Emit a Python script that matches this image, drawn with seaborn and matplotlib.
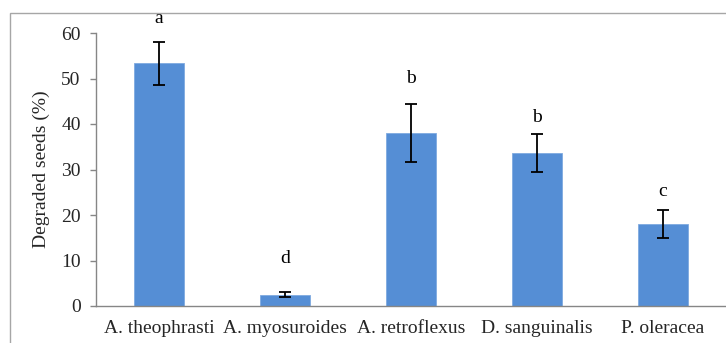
import matplotlib
matplotlib.use("Agg")
import matplotlib.pyplot as plt
import seaborn as sns
import pandas as pd
from matplotlib.patches import Rectangle

species = ["A. theophrasti", "A. myosuroides", "A. retroflexus", "D. sanguinalis", "P. oleracea"]
degraded = [53.3, 2.5, 38.1, 33.6, 18.0]
errors = [4.8, 0.5, 6.4, 4.1, 3.0]
letters = ["a", "d", "b", "b", "c"]
letter_y = [63.2, 10.4, 50.1, 41.4, 25.1]
yticks = [0, 10, 20, 30, 40, 50, 60]

sns.set_theme(style="white")
plt.rcParams["font.family"] = ["Liberation Serif", "DejaVu Serif"]

df = pd.DataFrame({"species": species, "degraded": degraded})

W, H = 726, 343
fig = plt.figure(figsize=(W / 100, H / 100), dpi=100)
ax = fig.add_axes([96 / W, (H - 306) / H, (726 - 96) / W, (306 - 33) / H])

sns.barplot(data=df, x="species", y="degraded", color="#558ED5", saturation=1,
            width=0.4, edgecolor="#7FAAE0", linewidth=0.6, ax=ax, errorbar=None)
ax.errorbar(range(len(species)), degraded, yerr=errors, fmt="none", ecolor="black",
            elinewidth=1.3, capsize=4.5, capthick=1.3)
for i, (lab, y) in enumerate(zip(letters, letter_y)):
    ax.text(i, y, lab, ha="center", va="center", fontsize=14, color="black")

ax.set_xlim(-0.5, len(species) - 0.5)
ax.set_ylim(0, 60)
ax.set_yticks(yticks)
ax.set_yticklabels([str(v) for v in yticks], fontsize=14)
ax.set_xticks(range(len(species)))
ax.set_xticklabels(species, fontsize=14)
ax.set_xticks([i + 0.5 for i in range(len(species) - 1)], minor=True)
ax.tick_params(axis="x", which="major", length=0, pad=10)
ax.tick_params(axis="x", which="minor", length=4, width=1, color="#868686", direction="out")
ax.tick_params(axis="y", which="major", length=4, width=1, color="#868686", direction="out",
               pad=7, left=True)
ax.set_xlabel("")
ax.set_ylabel("Degraded seeds (%)", fontsize=14, labelpad=8)

for s in ["top", "right"]:
    ax.spines[s].set_visible(False)
for s in ["left", "bottom"]:
    ax.spines[s].set_color("#868686")
    ax.spines[s].set_linewidth(1)

border = Rectangle((9.5 / W, -0.1), 1.2, (H - 13) / H + 0.1, transform=fig.transFigure,
                   fill=False, edgecolor="#A6A6A6", linewidth=1, clip_on=False)
fig.add_artist(border)

fig.savefig("out.png", dpi=100)
